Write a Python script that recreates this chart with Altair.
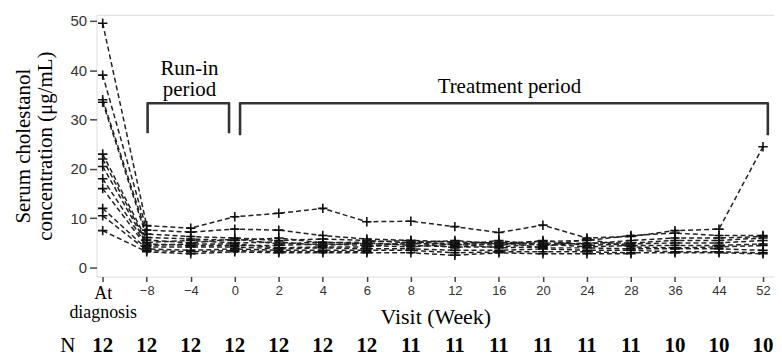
import json
import altair as alt
import pandas as pd

# ---------------- data ----------------
visits = ["At diagnosis", "-8", "-4", "0", "2", "4", "6", "8", "12", "16",
          "20", "24", "28", "36", "44", "52"]
tick_labels = ["At diagnosis", "\u22128", "\u22124", "0", "2", "4", "6", "8", "12", "16",
               "20", "24", "28", "36", "44", "52"]
n_counts = [12, 12, 12, 12, 12, 12, 12, 11, 11, 11, 11, 11, 11, 10, 10, 10]

# serum cholestanol (ug/mL) per patient, one value per visit (None = missing)
p01 = [49.5, 8.5, 8.0, 10.3, 11.0, 12.0, 9.3, 9.4, 8.3, 7.1, 8.6, 6.0, 6.3, 7.5, 7.8, 24.5]
p02 = [39.0, 7.6, 7.2, 7.8, 7.6, 6.5, 5.8, 5.5, 5.2, 5.0, 5.3, 5.5, 6.5, 7.0, 6.5, 6.5]
p03 = [34.0, 6.8, 6.3, 6.0, 5.5, 5.8, 5.5, 5.0, 5.5, 4.8, 5.0, 4.8, 5.5, 6.0, 6.0, 6.3]
p04 = [33.5, 6.1, 5.8, 5.5, 6.0, 5.0, 5.2, 5.5, 4.5, 5.5, 4.5, 5.0, 5.0, 5.5, 5.5, 6.0]
p05 = [23.0, 5.6, 5.0, 5.8, 4.8, 5.2, 4.8, 4.8, 5.0, 4.5, 5.5, 4.5, 4.8, 5.0, 5.0, 5.5]
p06 = [22.0, 5.1, 5.5, 5.0, 5.2, 4.5, 5.0, 4.5, 4.2, 4.2, 4.8, 4.2, 4.5, 4.5, 4.5, 4.8]
p07 = [20.5, 4.8, 4.5, 4.5, 4.5, 4.8, 4.5, 4.2, 4.8, 4.0, 4.2, 5.8, 4.2, 4.0, 4.2, 4.5]
p08 = [18.0, 4.5, 4.8, 4.8, 4.0, 4.2, 4.2, 5.2, 4.0, 5.2, 4.0, 4.0, 3.8, 3.8, 3.8, 3.5]
p09 = [16.0, 4.2, 4.2, 4.2, 3.8, 4.0, 3.8, 3.8, 3.5, 3.5, 3.8, 3.5, 3.5, 3.2, 3.2, 3.0]
p10 = [12.0, 3.8, 3.5, 3.8, 3.5, 3.5, 3.5, 3.5, 3.0, 3.2, 3.2, 3.2, 3.0, 3.0, 3.0, 2.8]
p11 = [10.5, 3.5, 3.2, 3.5, 3.2, 3.2, 3.2, None, None, None, None, None, None, None, None, None]
p12 = [7.5, 3.2, 2.8, 3.2, 3.0, 3.0, 3.0, 3.0, 2.5, 3.0, 2.8, 2.8, 2.8, None, None, None]
patients = [p01, p02, p03, p04, p05, p06, p07, p08, p09, p10, p11, p12]

# period annotations (bracket outlines and labels, in data units)
bracket_names = ["run", "run", "run", "run", "trt", "trt", "trt", "trt"]
bracket_x = [1.02, 1.02, 2.87, 2.87, 3.12, 3.12, 15.11, 15.11]
bracket_y = [27.2, 33.3, 33.3, 27.2, 26.8, 33.3, 33.3, 26.8]
period_text = ["Run-in", "period", "Treatment period"]
period_x = [1.97, 1.97, 9.24]
period_y = [40.3, 35.9, 36.5]

# ---------------- tables ----------------
rows = []
for pid, vals in enumerate(patients):
    for i, v in enumerate(vals):
        if v is not None:
            rows.append({"patient": pid, "idx": i, "value": v})
df = pd.DataFrame(rows)

df_br = pd.DataFrame({"b": bracket_names, "x": bracket_x, "y": bracket_y,
                      "o": list(range(len(bracket_x)))})
df_pt = pd.DataFrame({"t": period_text, "x": period_x, "y": period_y})
df_n = pd.DataFrame({"idx": list(range(len(n_counts))), "n": [str(v) for v in n_counts]})

SERIF = "'Liberation Serif', 'Times New Roman', Times, serif"
SANS = "'Liberation Sans', Arial, Helvetica, sans-serif"

xscale = alt.Scale(domain=[-0.14, 15.25], nice=False, zero=False)
yscale = alt.Scale(domain=[-1.8, 51.2], nice=False, zero=False)

label_expr = ("datum.value == 0 ? split(" + json.dumps(tick_labels[0]) + ", ' ') : "
              + json.dumps(tick_labels, ensure_ascii=False) + "[datum.value]")
first = "datum.value == 0"

x_enc = alt.X("idx:Q", scale=xscale,
              axis=alt.Axis(values=list(range(16)), labelExpr=label_expr,
                            title="Visit (Week)", grid=False, domain=False,
                            tickSize=5, tickColor="#444", tickWidth=1.5,
                            labelFont={"condition": {"test": first, "value": SERIF}, "value": SANS},
                            labelFontSize={"condition": {"test": first, "value": 18}, "value": 13},
                            labelColor={"condition": {"test": first, "value": "black"}, "value": "#333"},
                            labelLineHeight=19, labelPadding=3,
                            titleFont=SERIF, titleFontSize=22,
                            titleFontWeight="normal", titleColor="black",
                            titlePadding=-15))
y_enc = alt.Y("value:Q", scale=yscale,
              axis=alt.Axis(values=[0, 10, 20, 30, 40, 50],
                            title=["Serum cholestanol", "concentration (\u03bcg/mL)"],
                            grid=False, domain=False,
                            tickSize=7, tickColor="#444", tickWidth=1.5,
                            labelFont=SANS, labelFontSize=15, labelColor="#333",
                            labelPadding=3,
                            titleFont=SERIF, titleFontSize=21,
                            titleFontWeight="normal", titleColor="black",
                            titleLineHeight=22, titlePadding=15))

lines = alt.Chart(df).mark_line(strokeDash=[5, 3], strokeWidth=1.5, color="#222").encode(
    x=x_enc, y=y_enc, detail="patient:N", order="idx:Q")

plus = "M-1,0L1,0M0,-1L0,1"
points = alt.Chart(df).mark_point(shape=plus, filled=False, size=90, strokeWidth=1.6,
                                  color="#111", opacity=1).encode(
    x="idx:Q", y="value:Q")

brackets = alt.Chart(df_br).mark_line(color="#333", strokeWidth=2.6, strokeJoin="round",
                                      strokeCap="butt").encode(
    x="x:Q", y="y:Q", detail="b:N", order="o:Q")

ptext = alt.Chart(df_pt).mark_text(font=SERIF, fontSize=21, color="black",
                                   baseline="middle", align="center").encode(
    x="x:Q", y="y:Q", text="t:N")

ntext = alt.Chart(df_n).mark_text(font=SERIF, fontSize=21, fontWeight="bold",
                                  color="black", baseline="middle", align="center").encode(
    x="idx:Q", y=alt.value(333), text="n:N")

nlabel = alt.Chart(df_n.head(1)).mark_text(font=SERIF, fontSize=21, color="black",
                                           baseline="middle", align="center").encode(
    x=alt.value(-29), y=alt.value(333), text=alt.value("N"))

chart = alt.layer(lines, points, brackets, ptext, ntext, nlabel).properties(
    width=681, height=263,
    autosize=alt.AutoSizeParams(type="none"),
    padding={"left": 89, "top": 6, "right": 0, "bottom": 80},
).configure_view(stroke="#555", strokeWidth=2).configure(background="white")

chart.save("out.html", embed_options={"renderer": "svg", "actions": False})
